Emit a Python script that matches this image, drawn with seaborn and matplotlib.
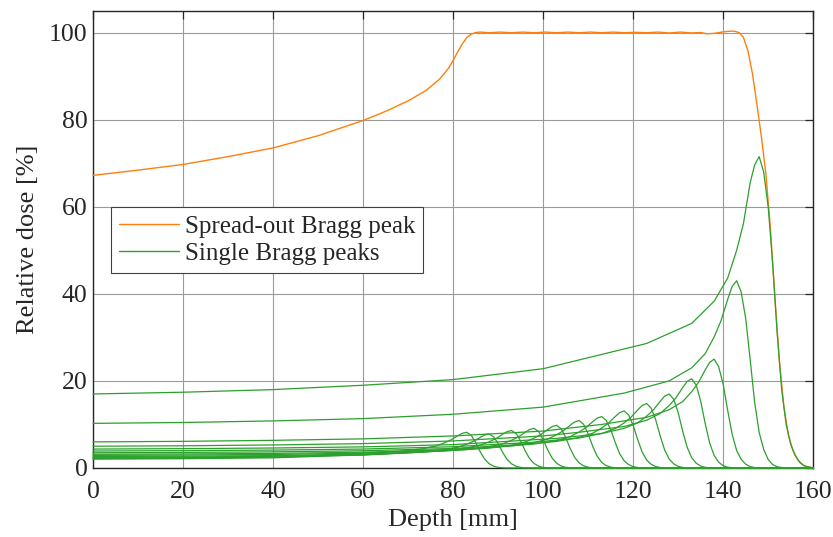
import numpy as np
import pandas as pd
import matplotlib
matplotlib.use("Agg")
import matplotlib.pyplot as plt
from matplotlib.lines import Line2D
import seaborn as sns

# ---------------- data ----------------
# Spread-out Bragg peak
sobp_depth = [0, 10, 20, 30, 40, 50, 60, 65, 70, 74, 77, 79, 80, 81, 82, 83, 84, 85, 86, 88,
              90.5, 93, 95.5, 98, 100.5, 103, 105.5, 108, 110.5, 113, 115.5, 118, 120.5, 123,
              125.5, 128, 130.5, 133, 135, 136.5, 138, 140, 141.5, 142.5, 143.5, 144.5, 145.5,
              146.5, 147.5, 148.5, 149.5, 150.5, 151.5, 152.5, 153.5, 154.5, 155.5, 156.5,
              157.5, 158.5, 160]
sobp_dose = [67.2, 68.4, 69.7, 71.5, 73.5, 76.3, 79.8, 81.9, 84.3, 86.7, 89.3, 91.8, 93.6, 95.5,
             97.3, 98.8, 99.6, 100.0, 100.1, 99.95, 100.1, 99.95, 100.1, 99.95, 100.1, 99.95,
             100.1, 99.95, 100.1, 99.95, 100.1, 99.95, 100.05, 99.95, 100.1, 99.9, 100.1, 99.9,
             100.0, 99.7, 99.8, 100.15, 100.3, 100.3, 100.0, 98.9, 95.8, 90.6, 83.5, 76.0, 67.5,
             55.0, 39.0, 24.5, 14.0, 7.5, 4.0, 2.0, 0.9, 0.3, 0.05]

# Single Bragg peaks: peak depths (mm)
peak_depth = [83, 88, 93, 98, 103, 108, 113, 118, 123, 128, 133, 138, 143, 148]

# shallow part sample depths (first n used per curve) and doses
far_depths = [0, 20, 40, 60, 80, 100]
far_doses = [
    [2.15, 2.24, 2.49],
    [2.05, 2.13, 2.33],
    [2.3, 2.37, 2.53, 3.0],
    [2.45, 2.52, 2.67, 3.04],
    [2.65, 2.71, 2.85, 3.18],
    [2.9, 2.97, 3.11, 3.42],
    [3.15, 3.22, 3.35, 3.63, 4.21],
    [3.5, 3.57, 3.71, 3.96, 4.49],
    [3.9, 3.98, 4.11, 4.35, 4.88],
    [4.35, 4.44, 4.59, 4.85, 5.37],
    [5.0, 5.1, 5.29, 5.6, 6.21, 7.36],
    [6.0, 6.12, 6.35, 6.69, 7.36, 8.48],
    [10.25, 10.45, 10.81, 11.34, 12.34, 13.98],
    [17.0, 17.4, 18.0, 19.0, 20.3, 22.8],
]

# samples around each peak: offset from peak depth (mm) and doses
near_offsets = [-25, -15, -10, -7, -5, -3.5, -2, -1, 0, 1, 2, 3, 4, 5, 6, 7, 8, 9, 10]
near_doses = [
    [3.28, 3.81, 4.39, 5.0, 5.74, 6.44, 7.38, 7.95, 8.2, 7.54, 5.90, 3.77, 2.05, 0.98, 0.41, 0.15, 0.04, 0.01, 0.0],
    [3.12, 3.63, 4.17, 4.76, 5.46, 6.12, 7.02, 7.57, 7.8, 7.18, 5.62, 3.59, 1.95, 0.94, 0.39, 0.14, 0.04, 0.01, 0.0],
    [3.44, 4.0, 4.6, 5.25, 6.02, 6.75, 7.74, 8.34, 8.6, 7.91, 6.19, 3.96, 2.15, 1.03, 0.43, 0.15, 0.04, 0.01, 0.0],
    [3.64, 4.23, 4.87, 5.55, 6.37, 7.14, 8.19, 8.83, 9.1, 8.37, 6.55, 4.19, 2.28, 1.09, 0.46, 0.16, 0.05, 0.01, 0.0],
    [3.92, 4.56, 5.24, 5.98, 6.86, 7.69, 8.82, 9.51, 9.8, 9.02, 7.06, 4.51, 2.45, 1.18, 0.49, 0.18, 0.05, 0.01, 0.0],
    [4.36, 5.07, 5.83, 6.65, 7.63, 8.56, 9.81, 10.57, 10.9, 10.03, 7.85, 5.01, 2.73, 1.31, 0.55, 0.2, 0.05, 0.01, 0.0],
    [4.72, 5.49, 6.31, 7.2, 8.26, 9.26, 10.62, 11.45, 11.8, 10.97, 8.85, 5.9, 3.3, 1.65, 0.77, 0.31, 0.11, 0.03, 0.0],
    [5.24, 6.09, 7.01, 7.99, 9.17, 10.28, 11.79, 12.71, 13.1, 12.18, 9.83, 6.55, 3.67, 1.83, 0.85, 0.34, 0.12, 0.03, 0.0],
    [5.92, 6.88, 7.92, 9.03, 10.36, 11.62, 13.32, 14.36, 14.8, 13.76, 11.1, 7.4, 4.14, 2.07, 0.96, 0.38, 0.13, 0.04, 0.0],
    [6.8, 7.91, 9.1, 10.37, 11.9, 13.35, 15.3, 16.49, 17.0, 15.81, 12.75, 8.5, 4.76, 2.38, 1.11, 0.44, 0.15, 0.05, 0.0],
    [8.2, 9.53, 10.97, 12.51, 14.35, 16.09, 18.45, 19.89, 20.5, 19.07, 15.38, 10.25, 5.74, 2.87, 1.33, 0.53, 0.18, 0.06, 0.0],
    [10.0, 11.63, 13.38, 15.25, 17.5, 19.63, 22.5, 24.25, 25.0, 23.25, 19.25, 13.25, 7.75, 4.0, 2.0, 0.88, 0.3, 0.1, 0.02],
    [17.2, 20.0, 23.0, 26.23, 30.1, 33.76, 38.7, 41.71, 43.0, 40.42, 34.4, 24.94, 15.05, 8.17, 4.3, 1.94, 0.77, 0.3, 0.1],
    [28.6, 33.2, 38.3, 43.6, 50.0, 56.1, 65.5, 69.6, 71.5, 68.0, 60.0, 47.0, 31.0, 18.0, 10.0, 5.5, 2.9, 1.3, 0.5],
]
end_depth = 160
end_dose = 0.0

x_ticks = [0, 20, 40, 60, 80, 100, 120, 140, 160]
y_ticks = [0, 20, 40, 60, 80, 100]

# ---------------- tables ----------------
rows = []
for i, R in enumerate(peak_depth):
    fd = far_doses[i]
    for d, v in zip(far_depths[:len(fd)], fd):
        rows.append((i, d, v))
    for o, v in zip(near_offsets, near_doses[i]):
        rows.append((i, R + o, v))
    rows.append((i, end_depth, end_dose))
single = pd.DataFrame(rows, columns=["curve", "depth", "dose"])
sobp = pd.DataFrame({"depth": sobp_depth, "dose": sobp_dose})

# ---------------- plot ----------------
sns.set_theme(style="white")
plt.rcParams["font.family"] = ["Liberation Serif", "DejaVu Serif"]
plt.rcParams["mathtext.fontset"] = "stix"

orange = "#ff7f0e"
green = "#2ca02c"
txt = "#262626"

fig = plt.figure(figsize=(8.33, 5.37), dpi=100)
ax = fig.add_axes([0.1117, 0.1285, 0.8645, 0.8515])

sns.lineplot(data=sobp, x="depth", y="dose", color=orange, lw=1.0, ax=ax,
             estimator=None, zorder=3)
sns.lineplot(data=single, x="depth", y="dose", units="curve", estimator=None,
             color=green, lw=0.9, ax=ax, zorder=4, legend=False)
for ln in ax.get_lines():
    ln.set_clip_on(False)

ax.set_xlim(0, 160)
ax.set_ylim(0, 105)
ax.set_xticks(x_ticks)
ax.set_yticks(y_ticks)
ax.grid(True, color="#9a9a9a", lw=0.8)
ax.set_axisbelow(True)
ax.tick_params(direction="in", top=True, right=True, length=6, width=0.9,
               labelsize=18.5, colors=txt)
ax.tick_params(axis="x", pad=9.5)
ax.tick_params(axis="y", pad=4)
for s in ax.spines.values():
    s.set_visible(True)
    s.set_color(txt)
    s.set_linewidth(1.0)

ax.set_xlabel("Depth [mm]", fontsize=19, color=txt, labelpad=4)
ax.set_ylabel("Relative dose [%]", fontsize=19, color=txt, labelpad=7)

handles = [Line2D([], [], color=orange, lw=1.0), Line2D([], [], color=green, lw=1.0)]
leg = ax.legend(handles, ["Spread-out Bragg peak", "Single Bragg peaks"],
                loc="upper left", bbox_to_anchor=(0.0246, 0.571), borderaxespad=0,
                fontsize=18, frameon=True, fancybox=False, framealpha=1,
                handlelength=2.4, handletextpad=0.22, labelspacing=0.2,
                borderpad=0.33)
leg.get_frame().set_edgecolor("#404040")
leg.get_frame().set_linewidth(0.8)

fig.savefig("out.png", dpi=100)
